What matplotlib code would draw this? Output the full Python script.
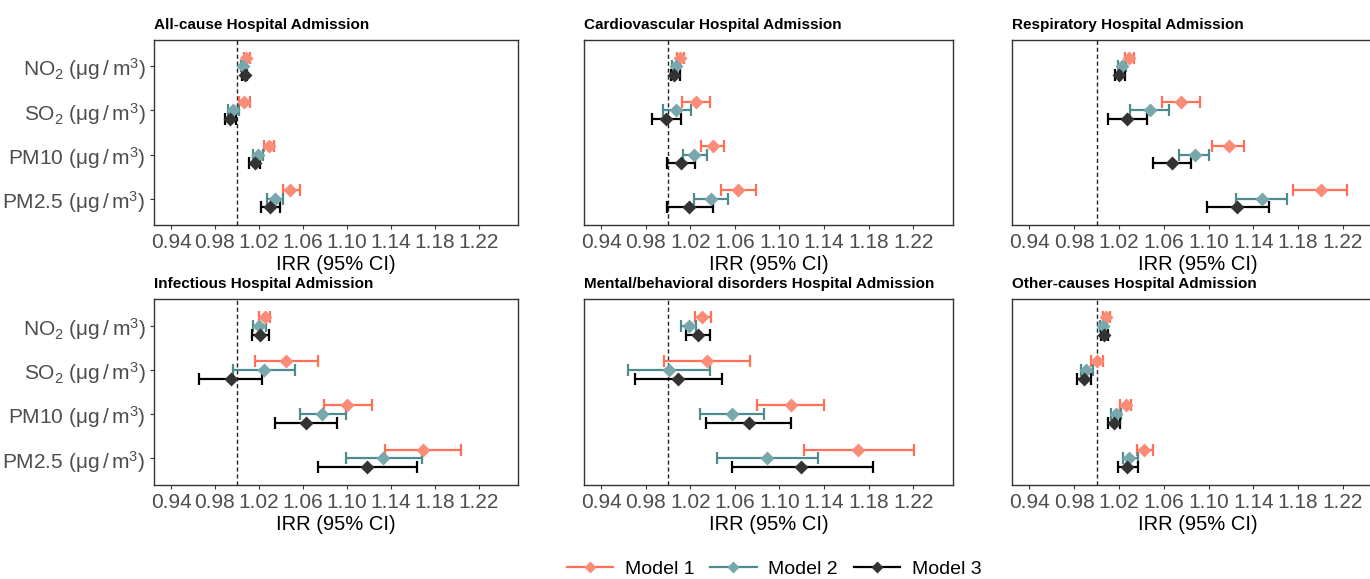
import matplotlib

matplotlib.use("Agg")
import matplotlib.pyplot as plt
from matplotlib.lines import Line2D
import numpy as np

plt.rcParams["font.family"] = ["Liberation Sans", "DejaVu Sans"]
plt.rcParams["mathtext.default"] = "regular"

# --------------------------------------------------------------------------- #
# Data (IRR and 95% CI, rows = Model 1/2/3, cols = NO2, SO2, PM10, PM2.5)
# --------------------------------------------------------------------------- #
POLLUTANTS = [r"NO$_2$ (μg$\,$/$\,$m$^3$)", r"SO$_2$ (μg$\,$/$\,$m$^3$)",
              r"PM10 (μg$\,$/$\,$m$^3$)", r"PM2.5 (μg$\,$/$\,$m$^3$)"]
MODELS = ["Model 1", "Model 2", "Model 3"]
TITLES = ["All-cause Hospital Admission", "Cardiovascular Hospital Admission",
          "Respiratory Hospital Admission", "Infectious Hospital Admission",
          "Mental/behavioral disorders Hospital Admission",
          "Other-causes Hospital Admission"]
XTICKS = [0.94, 0.98, 1.02, 1.06, 1.10, 1.14, 1.18, 1.22]

allcause_est = [[1.0083, 1.0067, 1.0292, 1.0486],
                [1.0058, 0.9967, 1.0189, 1.0350],
                [1.0073, 0.9937, 1.0165, 1.0304]]
allcause_lo = [[1.0060, 1.0016, 1.0250, 1.0420],
               [1.0035, 0.9922, 1.0143, 1.0270],
               [1.0050, 0.9891, 1.0113, 1.0219]]
allcause_hi = [[1.0120, 1.0119, 1.0337, 1.0574],
               [1.0080, 1.0022, 1.0234, 1.0416],
               [1.0095, 0.9992, 1.0210, 1.0392]]

cardio_est = [[1.0110, 1.0248, 1.0403, 1.0625],
              [1.0068, 1.0068, 1.0233, 1.0382],
              [1.0056, 0.9981, 1.0113, 1.0188]]
cardio_lo = [[1.0083, 1.0122, 1.0298, 1.0475],
             [1.0038, 0.9951, 1.0137, 1.0236],
             [1.0030, 0.9852, 0.9987, 0.9987]]
cardio_hi = [[1.0140, 1.0373, 1.0502, 1.0787],
             [1.0104, 1.0206, 1.0349, 1.0538],
             [1.0107, 1.0119, 1.0239, 1.0400]]

resp_est = [[1.0288, 1.0755, 1.1187, 1.2000],
            [1.0225, 1.0475, 1.0878, 1.1479],
            [1.0201, 1.0276, 1.0675, 1.1250]]
resp_lo = [[1.0252, 1.0580, 1.1032, 1.1750],
           [1.0192, 1.0303, 1.0732, 1.1247],
           [1.0163, 1.0100, 1.0502, 1.0982]]
resp_hi = [[1.0338, 1.0925, 1.1318, 1.2236],
           [1.0261, 1.0648, 1.1000, 1.1700],
           [1.0255, 1.0454, 1.0842, 1.1542]]

infect_est = [[1.0256, 1.0444, 1.0999, 1.1697],
              [1.0204, 1.0247, 1.0771, 1.1327],
              [1.0210, 0.9943, 1.0626, 1.1181]]
infect_lo = [[1.0201, 1.0165, 1.0796, 1.1348],
             [1.0143, 0.9967, 1.0571, 1.0993],
             [1.0134, 0.9658, 1.0350, 1.0738]]
infect_hi = [[1.0301, 1.0741, 1.1226, 1.2040],
             [1.0262, 1.0526, 1.0993, 1.1682],
             [1.0295, 1.0231, 1.0908, 1.1642]]

mental_est = [[1.0301, 1.0349, 1.1101, 1.1706],
              [1.0191, 1.0008, 1.0577, 1.0885],
              [1.0269, 1.0089, 1.0727, 1.1191]]
mental_lo = [[1.0245, 0.9966, 1.0796, 1.1218],
             [1.0113, 0.9640, 1.0283, 1.0436],
             [1.0164, 0.9700, 1.0340, 1.0577]]
mental_hi = [[1.0382, 1.0739, 1.1398, 1.2209],
             [1.0254, 1.0379, 1.0865, 1.1350],
             [1.0379, 1.0487, 1.1101, 1.1841]]

other_est = [[1.0082, 1.0002, 1.0261, 1.0428],
             [1.0061, 0.9906, 1.0172, 1.0294],
             [1.0070, 0.9889, 1.0154, 1.0276]]
other_lo = [[1.0055, 0.9951, 1.0213, 1.0359],
            [1.0032, 0.9862, 1.0130, 1.0234],
            [1.0043, 0.9829, 1.0100, 1.0189]]
other_hi = [[1.0121, 1.0061, 1.0306, 1.0502],
            [1.0094, 0.9966, 1.0219, 1.0368],
            [1.0100, 0.9951, 1.0210, 1.0368]]

PANELS = [(allcause_est, allcause_lo, allcause_hi),
          (cardio_est, cardio_lo, cardio_hi),
          (resp_est, resp_lo, resp_hi),
          (infect_est, infect_lo, infect_hi),
          (mental_est, mental_lo, mental_hi),
          (other_est, other_lo, other_hi)]

BAR_COLORS = ["#FF7056", "#4E8A8E", "#000000"]
PT_COLORS = ["#FB8C78", "#78A8AB", "#333333"]
DODGE = [-0.2, 0.0, 0.2]

# --------------------------------------------------------------------------- #
# Figure
# --------------------------------------------------------------------------- #
fig = plt.figure(figsize=(13.7, 5.79), dpi=100)
lefts = [0.1124, 0.4263, 0.7387]
bottoms = [0.6114, 0.1623]
widths = [0.2657, 0.2693, 0.2708]
heights = [0.3195, 0.321]

y = np.arange(1, len(POLLUTANTS) + 1)
for i, (est, lo, hi) in enumerate(PANELS):
    r, c = divmod(i, 3)
    ax = fig.add_axes([lefts[c], bottoms[r], widths[c], heights[r]])
    ax.axvline(1.0, color="#222222", ls=(0, (3, 2)), lw=1.0, zorder=1)
    for m in range(3):
        e = np.array(est[m])
        yy = y + DODGE[m]
        ax.errorbar(e, yy, xerr=[e - np.array(lo[m]), np.array(hi[m]) - e],
                    fmt="none", ecolor=BAR_COLORS[m], elinewidth=1.6,
                    capsize=4, capthick=1.6, zorder=2)
        ax.plot(e, yy, "D", color=PT_COLORS[m], ms=7.5, mec="none", zorder=3)
    ax.set_xlim(0.9245, 1.2558)
    ax.set_ylim(4.6, 0.4)
    ax.set_xticks(XTICKS)
    ax.set_xticklabels([f"{t:.2f}" for t in XTICKS])
    ax.tick_params(axis="x", labelsize=15, labelcolor="#4D4D4D", color="#333333",
                   length=3, width=0.8, pad=3)
    ax.set_yticks(y)
    if c == 0:
        ax.set_yticklabels(POLLUTANTS)
        ax.tick_params(axis="y", labelsize=15, labelcolor="#4D4D4D",
                       color="#333333", length=3, width=0.8, pad=3)
    else:
        ax.set_yticklabels([])
        ax.tick_params(axis="y", length=0)
    for s in ax.spines.values():
        s.set_color("#333333")
        s.set_linewidth(1.0)
    ax.set_xlabel("IRR (95% CI)", fontsize=14.5, labelpad=2)
    ax.set_title(TITLES[i], loc="left", fontsize=11, fontweight="bold", pad=8)

handles = [Line2D([0], [0], color=BAR_COLORS[m], lw=1.6, marker="D", ms=6,
                  mfc=PT_COLORS[m], mec="none") for m in range(3)]
fig.legend(handles, MODELS, loc="center", bbox_to_anchor=(0.565, 0.017),
           ncol=3, frameon=False, fontsize=14, handlelength=2.4,
           columnspacing=0.8, handletextpad=0.6)

fig.savefig("out.png", dpi=100)
